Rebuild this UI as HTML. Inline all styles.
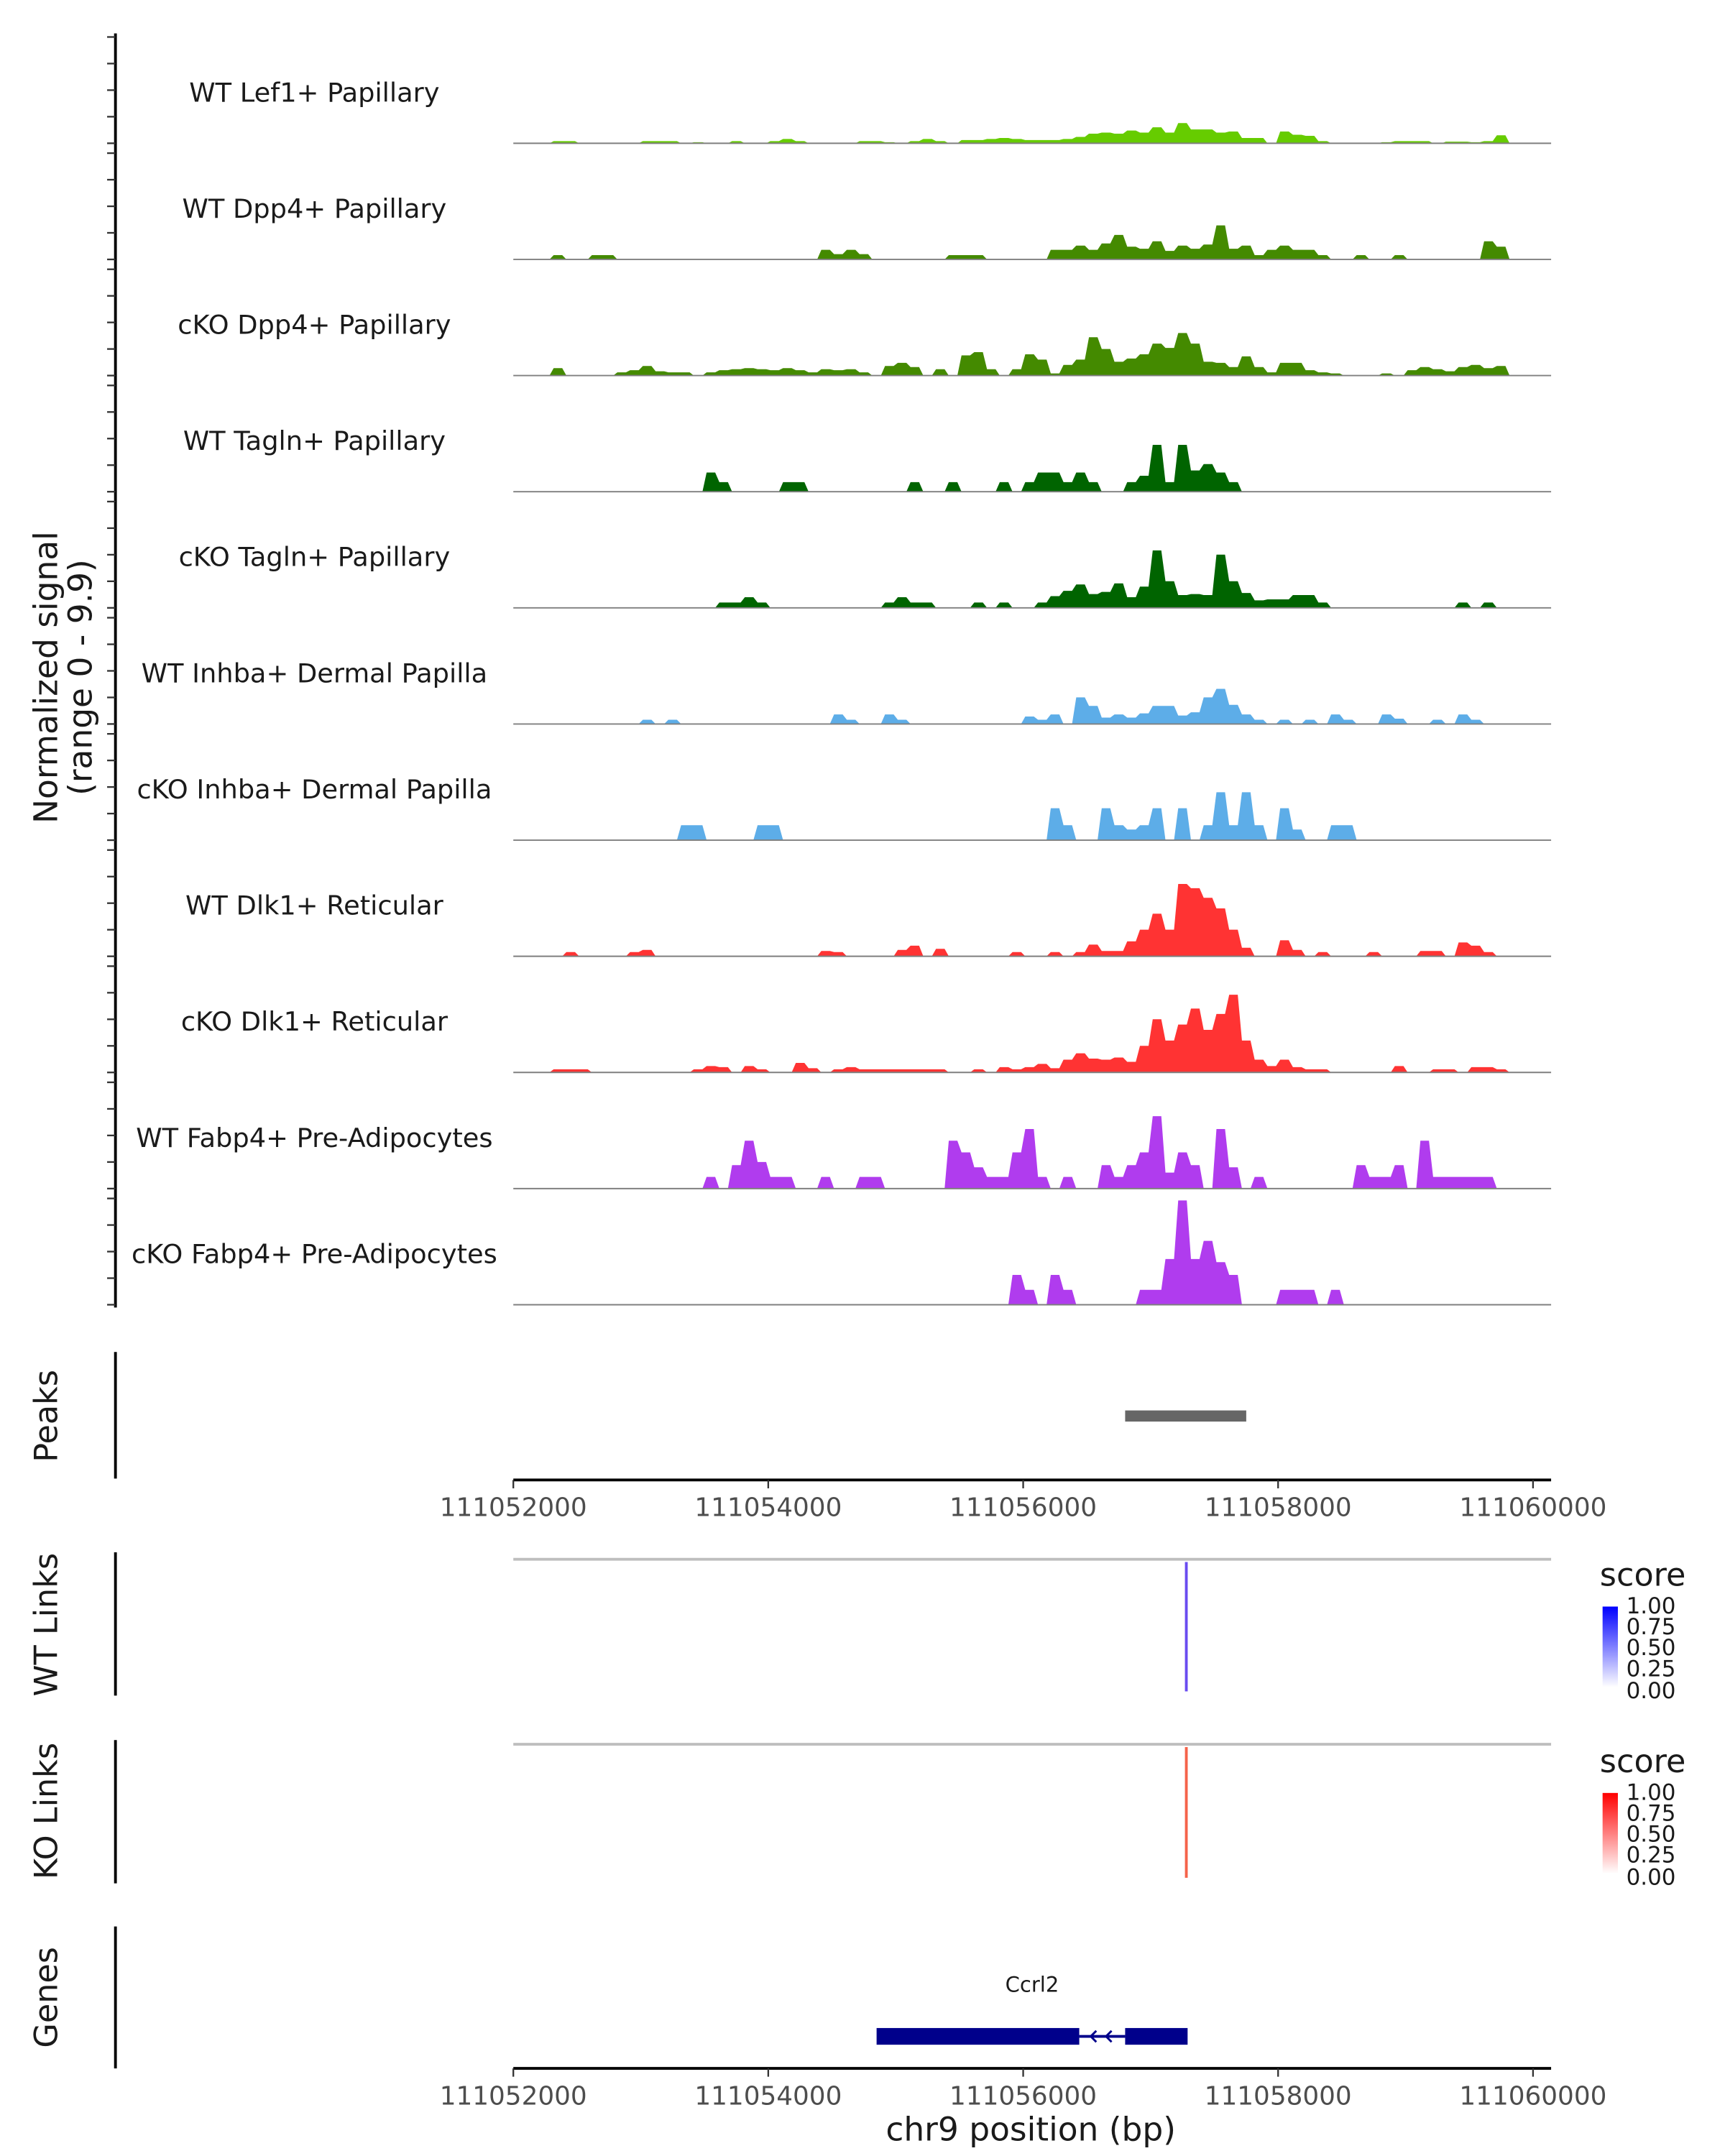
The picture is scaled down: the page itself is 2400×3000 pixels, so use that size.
<!DOCTYPE html>
<html><head><meta charset="utf-8"><style>
html,body{margin:0;padding:0;background:#fff}
svg{display:block}
text{font-family:"DejaVu Sans","Liberation Sans",sans-serif}
</style></head><body>
<svg id="chart" xmlns="http://www.w3.org/2000/svg" width="2400" height="3000" viewBox="0 0 1240 1550">
<defs>
<linearGradient id="gBlue" x1="0" y1="1" x2="0" y2="0"><stop offset="0" stop-color="#ffffff"/><stop offset="1" stop-color="#0000ff"/></linearGradient>
<linearGradient id="gRed" x1="0" y1="1" x2="0" y2="0"><stop offset="0" stop-color="#ffffff"/><stop offset="1" stop-color="#ff0000"/></linearGradient>
</defs>
<g id="tracks"></g>
<text transform="translate(41,487) rotate(-90)" text-anchor="middle" font-size="23.5" fill="#1a1a1a">Normalized signal</text>
<text transform="translate(66,487) rotate(-90)" text-anchor="middle" font-size="23.5" fill="#1a1a1a">(range 0 - 9.9)</text>
<g id="peaks">
<line x1="83" y1="972" x2="83" y2="1063" stroke="#000" stroke-width="2"/>
<text transform="translate(41,1018) rotate(-90)" text-anchor="middle" font-size="23" fill="#1a1a1a">Peaks</text>
</g>
<g id="axis1"></g>
<g>
<line x1="83" y1="1116" x2="83" y2="1219" stroke="#000" stroke-width="2"/>
<text transform="translate(41,1168) rotate(-90)" text-anchor="middle" font-size="23" fill="#1a1a1a">WT Links</text>
<line x1="369" y1="1121" x2="1115" y2="1121" stroke="#bebebe" stroke-width="2"/>
<line id="wtLink" x1="852" y1="1123" x2="852" y2="1216" stroke="#6a4cf0" stroke-width="2"/>
<text x="1150" y="1140" font-size="23" fill="#1a1a1a">score</text>
<rect x="1152" y="1155" width="11" height="58" fill="url(#gBlue)"/>
<g font-size="16" fill="#1a1a1a"><text x="1169" y="1160">1.00</text><text x="1169" y="1175">0.75</text><text x="1169" y="1190">0.50</text><text x="1169" y="1205">0.25</text><text x="1169" y="1221">0.00</text></g>
</g>
<g>
<line x1="83" y1="1251" x2="83" y2="1354" stroke="#000" stroke-width="2"/>
<text transform="translate(41,1302) rotate(-90)" text-anchor="middle" font-size="23" fill="#1a1a1a">KO Links</text>
<line x1="369" y1="1254" x2="1115" y2="1254" stroke="#bebebe" stroke-width="2"/>
<line id="koLink" x1="852" y1="1256" x2="852" y2="1350" stroke="#f5634a" stroke-width="2"/>
<text x="1150" y="1274" font-size="23" fill="#1a1a1a">score</text>
<rect x="1152" y="1289" width="11" height="58" fill="url(#gRed)"/>
<g font-size="16" fill="#1a1a1a"><text x="1169" y="1294">1.00</text><text x="1169" y="1309">0.75</text><text x="1169" y="1324">0.50</text><text x="1169" y="1339">0.25</text><text x="1169" y="1355">0.00</text></g>
</g>
<g id="genes">
<line x1="83" y1="1385" x2="83" y2="1487" stroke="#000" stroke-width="2"/>
<text transform="translate(41,1436) rotate(-90)" text-anchor="middle" font-size="23" fill="#1a1a1a">Genes</text>
</g>
<g id="axis2"></g>
<text x="741" y="1539" text-anchor="middle" font-size="23.5" fill="#1a1a1a">chr9 position (bp)</text>
</svg>
<script>
const regionStart = 111052000;
const binSize = 100;
const xTicks = [111052000, 111054000, 111056000, 111058000, 111060000];
const trackNames = ["WT Lef1+ Papillary","WT Dpp4+ Papillary","cKO Dpp4+ Papillary","WT Tagln+ Papillary","cKO Tagln+ Papillary","WT Inhba+ Dermal Papilla","cKO Inhba+ Dermal Papilla","WT Dlk1+ Reticular","cKO Dlk1+ Reticular","WT Fabp4+ Pre-Adipocytes","cKO Fabp4+ Pre-Adipocytes"];
const trackColors = ["#66cc00","#448a00","#448a00","#006400","#006400","#5dade8","#5dade8","#ff3333","#ff3333","#b03cee","#b03cee"];
const wtLef1 = [0,0,0,.2,.2,0,0,0,0,0, .2,.2,.2,0,.1,0,0,.2,0,0, .2,.4,.2,0,0,0,0,.2,.2,.1, 0,.2,.4,.2,0,.3,.3,.4,.5,.4, .3,.3,.3,.4,.6,.9,1.0,.9,1.2,1.0, 1.5,1.0,1.9,1.3,1.3,1.0,1.1,.5,.5,0, 1.1,.8,.7,.2,0,0,0,0,.1,.2, .2,.2,0,.15,.15,.1,.2,.75,0,0, 0];
const wtDpp4 = [0,0,0,.4,0,0,.4,.4,0,0, 0,0,0,0,0,0,0,0,0,0, 0,0,0,0,.9,.5,.9,.5,0,0, 0,0,0,0,.4,.4,.4,0,0,0, 0,0,.9,.9,1.3,.9,1.5,2.3,1.2,1.0, 1.7,.8,1.3,1.0,1.4,3.2,1.0,1.3,.4,.9, 1.3,.9,.9,.4,0,0,.4,0,0,.4, 0,0,0,0,0,0,1.7,1.2,0,0, 0];
const ckoDpp4 = [0,0,0,.7,0,0,0,0,.3,.5, .9,.4,.3,.3,0,.3,.5,.6,.7,.6, .5,.7,.5,.3,.6,.5,.6,.3,0,.9, 1.2,.8,0,.6,0,1.9,2.2,.6,0,.6, 2.0,1.5,.2,1.0,1.5,3.6,2.5,1.3,1.6,2.0, 3.0,2.6,4.0,3.0,1.3,1.2,.8,1.8,.8,.3, 1.2,1.2,.5,.3,.2,0,0,0,.2,0, .5,.8,.6,.4,.8,1.0,.7,.9,0,0, 0];
const wtTagln = [0,0,0,0,0,0,0,0,0,0, 0,0,0,0,0,1.8,.9,0,0,0, 0,.9,.9,0,0,0,0,0,0,0, 0,.9,0,0,.9,0,0,0,.9,0, .9,1.8,1.8,.9,1.8,.9,0,0,.9,1.5, 4.4,.9,4.4,2.0,2.6,1.8,.9,0,0,0, 0,0,0,0,0,0,0,0,0,0, 0,0,0,0,0,0,0,0,0,0, 0];
const ckoTagln = [0,0,0,0,0,0,0,0,0,0, 0,0,0,0,0,0,.5,.5,1.0,.5, 0,0,0,0,0,0,0,0,0,.5, 1.0,.5,.5,0,0,0,.5,0,.5,0, 0,.5,1.1,1.6,2.2,1.3,1.5,2.3,1.0,2.0, 5.4,2.5,1.2,1.3,1.2,5.0,2.5,1.4,.7,.8, .8,1.2,1.2,.5,0,0,0,0,0,0, 0,0,0,0,.5,0,.5,0,0,0, 0];
const wtInhba = [0,0,0,0,0,0,0,0,0,0, .4,0,.4,0,0,0,0,0,0,0, 0,0,0,0,0,.9,.4,0,0,.9, .4,0,0,0,0,0,0,0,0,0, .7,.4,.9,0,2.5,1.7,.6,.9,.6,1.0, 1.7,1.7,.8,1.1,2.5,3.3,1.8,.9,.4,0, .4,0,.4,0,.9,.4,0,0,.9,.5, 0,0,.4,0,.9,.4,0,0,0,0, 0];
const ckoInhba = [0,0,0,0,0,0,0,0,0,0, 0,0,0,1.4,1.4,0,0,0,0,1.4, 1.4,0,0,0,0,0,0,0,0,0, 0,0,0,0,0,0,0,0,0,0, 0,0,3.0,1.4,0,0,3.0,1.4,1.0,1.4, 3.0,0,3.0,0,1.4,4.5,1.4,4.5,1.4,0, 3.0,1.0,0,0,1.4,1.4,0,0,0,0, 0,0,0,0,0,0,0,0,0,0, 0];
const wtDlk1 = [0,0,0,0,.4,0,0,0,0,.4, .6,0,0,0,0,0,0,0,0,0, 0,0,0,0,.5,.4,0,0,0,0, .6,1.0,0,.7,0,0,0,0,0,.4, 0,0,.4,0,.4,1.1,.5,.5,1.4,2.5, 4.0,2.5,6.8,6.4,5.5,4.5,2.5,.8,0,0, 1.5,.6,0,.4,0,0,0,.4,0,0, 0,.5,.5,0,1.3,1.0,.4,0,0,0, 0];
const ckoDlk1 = [0,0,0,.3,.3,.3,0,0,0,0, 0,0,0,0,.3,.6,.5,0,.6,.3, 0,0,.9,.4,0,.3,.5,.3,.3,.3, .3,.3,.3,.3,0,0,.3,0,.5,.3, .5,.8,.4,1.2,1.8,1.3,1.2,1.4,1.0,2.5, 5.0,3.0,4.5,6.0,4.0,5.5,7.3,3.0,1.2,.6, 1.2,.5,.3,.3,0,0,0,0,0,.6, 0,0,.3,.3,0,.5,.5,.3,0,0, 0];
const wtFabp4 = [0,0,0,0,0,0,0,0,0,0, 0,0,0,0,0,1.1,0,2.2,4.5,2.5, 1.1,1.1,0,0,1.1,0,0,1.1,1.1,0, 0,0,0,0,4.5,3.4,2.0,1.1,1.1,3.4, 5.6,1.1,0,1.1,0,0,2.2,1.1,2.2,3.4, 6.8,1.5,3.4,2.2,0,5.6,2.0,0,1.1,0, 0,0,0,0,0,0,2.2,1.1,1.1,2.2, 0,4.5,1.1,1.1,1.1,1.1,1.1,0,0,0, 0];
const ckoFabp4 = [0,0,0,0,0,0,0,0,0,0, 0,0,0,0,0,0,0,0,0,0, 0,0,0,0,0,0,0,0,0,0, 0,0,0,0,0,0,0,0,0,2.8, 1.4,0,2.8,1.4,0,0,0,0,0,1.4, 1.4,4.3,9.8,4.3,6.0,4.0,2.8,0,0,0, 1.4,1.4,1.4,0,1.4,0,0,0,0,0, 0,0,0,0,0,0,0,0,0,0, 0];
const peakStart = [111056800];
const peakEnd = [111057750];
const linkPos = [111057280];
const geneExonStarts = [111054850, 111056800];
const geneExonEnds = [111056440, 111057290];
const geneIntronArrows = [111056530, 111056650];
const geneName = "Ccrl2";

const allTracks = [wtLef1, wtDpp4, ckoDpp4, wtTagln, ckoTagln, wtInhba, ckoInhba, wtDlk1, ckoDlk1, wtFabp4, ckoFabp4];
const NS = "http://www.w3.org/2000/svg";
function xs(bp){ return 369 + (bp - regionStart) * (183.25 / 2000); }
function ys(v){ return v * 7.65; }
function mk(tag, attrs, parent){ const e = document.createElementNS(NS, tag); for (const k in attrs) e.setAttribute(k, attrs[k]); parent.appendChild(e); return e; }

const tracksG = document.getElementById("tracks");
mk("line", {x1:83, y1:24, x2:83, y2:940, stroke:"#000", "stroke-width":2}, tracksG);
allTracks.forEach((vals, t) => {
  const base = 103 + 83.5 * t;
  const g = mk("g", {}, tracksG);
  
  
  for (let k = 0; k <= 4; k++) {
    const tk = mk("line", {x1:77, x2:83, y1: base - k * 19.1, y2: base - k * 19.1, stroke:"#333", "stroke-width":1.2}, g);
    
    
  }
  const lbl = mk("text", {x:226, y: base - 30, "text-anchor":"middle", "font-size":19, fill:"#1a1a1a"}, g);
  lbl.textContent = trackNames[t];
  
  
  let pts = [[xs(regionStart), base]];
  vals.forEach((v, i) => {
    const x0 = xs(regionStart + i * binSize), x1 = xs(regionStart + (i + 1) * binSize);
    pts.push([x0 + 1.5, base - ys(v)]);
    pts.push([x1 - 1.5, base - ys(v)]);
  });
  pts.push([xs(regionStart + vals.length * binSize), base]);
  const area = mk("polygon", {points: pts.map(p => p[0].toFixed(2) + "," + p[1].toFixed(2)).join(" "), fill: trackColors[t]}, g);
  
  
  const bl = mk("line", {x1:369, x2:1115, y1:base, y2:base, stroke:"#7f7f7f", "stroke-width":1}, g);
  
  
});

const peaksG = document.getElementById("peaks");
peakStart.forEach((s, i) => {
  const r = mk("rect", {x: xs(s), y:1014, width: xs(peakEnd[i]) - xs(s), height:8, fill:"#666666"}, peaksG);
  
  
});
document.getElementById("wtLink").setAttribute("x1", xs(linkPos[0]));
document.getElementById("wtLink").setAttribute("x2", xs(linkPos[0]));
document.getElementById("koLink").setAttribute("x1", xs(linkPos[0]));
document.getElementById("koLink").setAttribute("x2", xs(linkPos[0]));

function drawAxis(id, y) {
  const g = document.getElementById(id);
  mk("line", {x1:369, x2:1115, y1:y, y2:y, stroke:"#000", "stroke-width":2}, g);
  xTicks.forEach(t => {
    const tk = mk("line", {x1: xs(t), x2: xs(t), y1: y, y2: y + 6, stroke:"#333", "stroke-width":1.2}, g);
    
    
    const tl = mk("text", {x: xs(t), y: y + 26, "text-anchor":"middle", "font-size":18.5, fill:"#4d4d4d"}, g);
    tl.textContent = String(t);
    
    
  });
}
drawAxis("axis1", 1064);
drawAxis("axis2", 1487);

const genesG = document.getElementById("genes");
const gl = mk("line", {x1: xs(geneExonEnds[0]), x2: xs(geneExonStarts[1]), y1:1464, y2:1464, stroke:"#00008b", "stroke-width":2}, genesG);


geneExonStarts.forEach((s, i) => {
  const r = mk("rect", {x: xs(s), y:1458, width: xs(geneExonEnds[i]) - xs(s), height:12, fill:"#00008b"}, genesG);
  
  
});
geneIntronArrows.forEach(a => {
  const x = xs(a);
  const p = mk("polyline", {points: (x + 4) + ",1460 " + x + ",1464 " + (x + 4) + ",1468", fill:"none", stroke:"#00008b", "stroke-width":1.5}, genesG);
  
  
});
const gn = mk("text", {x: (xs(geneExonStarts[0]) + xs(geneExonEnds[1])) / 2, y:1432, "text-anchor":"middle", "font-size":15, fill:"#1a1a1a"}, genesG);
gn.textContent = geneName;


</script>
</body></html>
